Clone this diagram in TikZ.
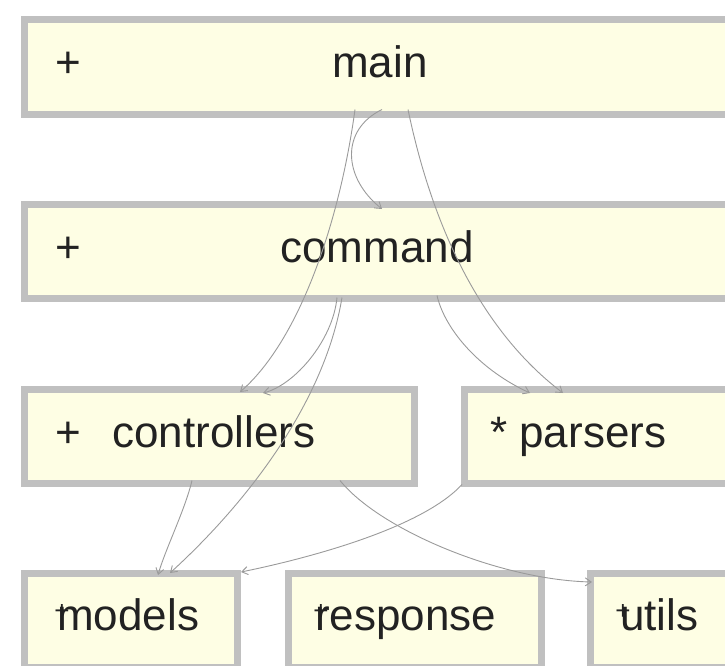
\documentclass[tikz,border=0pt]{standalone}
\usepackage{fontspec}
\setmainfont{Liberation Sans}
\usetikzlibrary{arrows.meta}
\definecolor{boxfill}{HTML}{FEFEE4}
\definecolor{boxline}{HTML}{C0C0C0}
\definecolor{edgecol}{HTML}{9A9A9A}
\definecolor{txt}{HTML}{222222}
\begin{document}
\begin{tikzpicture}[x=1pt,y=-1pt,
  pkg/.style={draw=boxline,fill=boxfill,line width=7pt,rectangle,inner sep=0pt,
              anchor=north west,minimum height=94.5pt},
  lbl/.style={font=\fontsize{44}{50}\selectfont,text=txt,inner sep=0pt,anchor=base},
  lblw/.style={lbl,anchor=base west},
  tinysign/.style={font=\fontsize{26}{26}\selectfont,text=txt,inner sep=0pt,anchor=base},
  dep/.style={draw=edgecol,line width=0.9pt,-{Straight Barb[length=6pt,width=8pt]}}]
\useasboundingbox (0,0) rectangle (725,666);
\clip (0,0) rectangle (725,666);

% boxes
\node[pkg,minimum width=720pt] (main) at (20.5,16.5) {};
\node[pkg,minimum width=720pt] (command) at (20.5,200.5) {};
\node[pkg,minimum width=390pt] (controllers) at (20.5,385.5) {};
\node[pkg,minimum width=320pt] (parsers) at (460.5,385.5) {};
\node[pkg,minimum width=213pt] (models) at (20.5,569.5) {};
\node[pkg,minimum width=253pt] (response) at (284.5,569.5) {};
\node[pkg,minimum width=220pt] (utils) at (586.5,569.5) {};

% labels
\node[lbl] (mainsign) at (68,78) {+};
\node[lbl] (mainlbl) at (380,78) {main};
\node[lbl] (cmdsign) at (68,262) {+};
\node[lbl] (cmdlbl) at (377,262) {command};
\node[lbl] (ctrlsign) at (68,447) {+};
\node[lblw] (ctrllbl) at (112,447) {controllers};
\node[lblw] (parslbl) at (490,447) {* parsers};
\node[lblw] (modlbl) at (57,630) {models};
\node[tinysign] (modsign) at (62,619) {+};
\node[lblw] (resplbl) at (315,630) {response};
\node[tinysign] (respsign) at (321,619) {+};
\node[lblw] (utllbl) at (620,630) {utils};
\node[tinysign] (utlsign) at (623,619) {+};

% dependencies
\draw[dep] ([xshift=361.5pt,yshift=8.5pt]main.south west)
  .. controls (340,130) and (343,178) .. ([xshift=361.5pt,yshift=-8.5pt]command.north west);
\draw[dep] ([xshift=334.5pt,yshift=8.5pt]main.south west)
  .. controls (340,220) and (300,340) .. ([xshift=219.5pt,yshift=-6.5pt]controllers.north west);
\draw[dep] ([xshift=316.5pt,yshift=4.5pt]command.south west)
  .. controls (333,340) and (295,385) .. ([xshift=242.5pt,yshift=-7.5pt]controllers.north west);
\draw[dep] ([xshift=387.5pt,yshift=8.5pt]main.south west)
  .. controls (432,225) and (480,330) .. ([xshift=102.5pt,yshift=-7.5pt]parsers.north west);
\draw[dep] ([xshift=416.5pt,yshift=6.5pt]command.south west)
  .. controls (445,330) and (480,370) .. ([xshift=69.5pt,yshift=-7.5pt]parsers.north west);
\draw[dep] ([xshift=321.5pt,yshift=4.5pt]command.south west)
  .. controls (325,400) and (250,500) .. ([xshift=149.5pt,yshift=-3.5pt]models.north west);
\draw[dep] ([xshift=171.5pt,yshift=6.5pt]controllers.south west)
  .. controls (185,510) and (165,550) .. ([xshift=137.5pt,yshift=-5.5pt]models.north west);
\draw[dep] ([xshift=1.5pt,yshift=2.5pt]parsers.south west)
  .. controls (420,530) and (300,560) .. ([xshift=0.5pt,yshift=-2.5pt]models.north east);
\draw[dep] ([xshift=319.5pt,yshift=6.5pt]controllers.south west)
  .. controls (380,530) and (500,580) .. ([xshift=5.5pt,yshift=-12.5pt]utils.north west);
\end{tikzpicture}
\end{document}
